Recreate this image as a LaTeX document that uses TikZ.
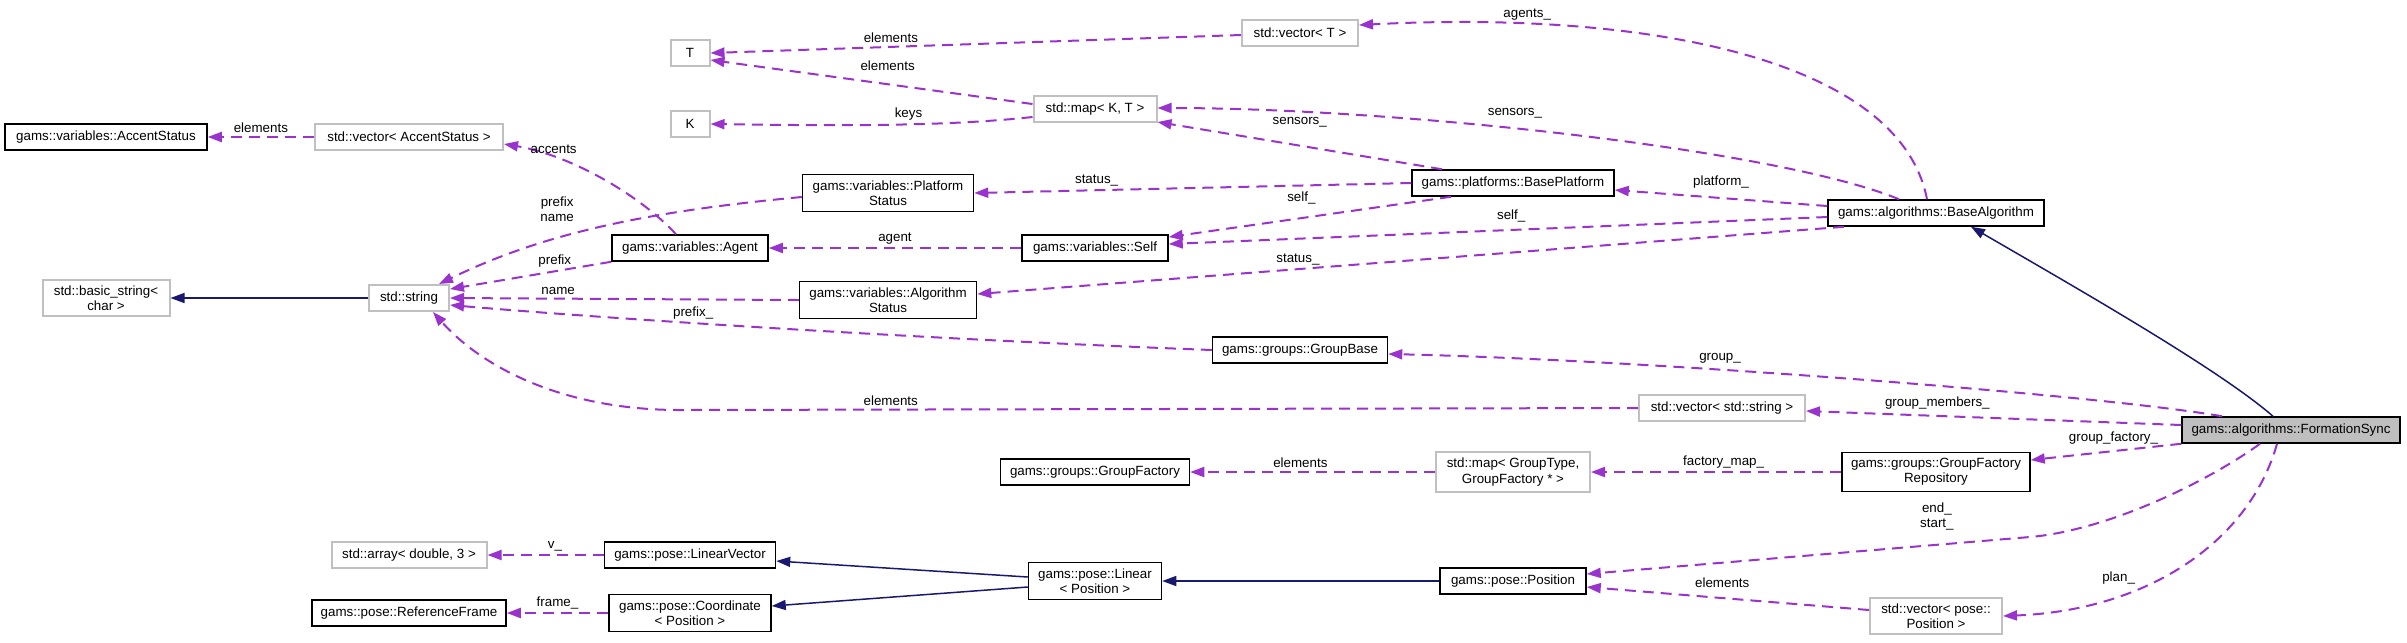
\documentclass[tikz,border=0pt]{standalone}
\usepackage{fontspec}
\setmainfont{Liberation Sans}
\usepackage{tikz}
\usetikzlibrary{arrows.meta}
\definecolor{memcol}{HTML}{9A32CD}
\definecolor{inhcol}{HTML}{191970}
\definecolor{extgray}{HTML}{C0C0C0}
\definecolor{curfill}{HTML}{BFBFBF}

\begin{document}
\begin{tikzpicture}[
  x=0.1mm,y=-0.1mm,
  font=\fontsize{3.8pt}{4.3pt}\selectfont,
  cls/.style={draw=black,line width=0.15mm,minimum height=2.6mm,inner xsep=0.5mm,inner ysep=0.6mm,align=center},
  ext/.style={cls,draw=extgray,line width=0.2mm},
  cur/.style={cls,fill=curfill},
  mem/.style={-{Triangle[length=1.4mm,width=1mm]},draw=memcol,line width=0.2mm,dash pattern=on 1.1mm off 0.7mm},
  inh/.style={-{Triangle[length=1.4mm,width=1mm]},draw=inhcol,line width=0.15mm},
  lbl/.style={inner sep=0.3mm,align=center}
]
\useasboundingbox (0,0) rectangle (2407,642);

% classes
\node[cls,minimum width=20.2mm] (as) at (106,137) {gams::variables::AccentStatus};
\node[ext,minimum width=18.8mm] (vas) at (409,137) {std::vector< AccentStatus >};
\node[ext,minimum width=3.9mm] (T) at (690,53) {T};
\node[ext,minimum width=3.9mm] (K) at (690,124) {K};
\node[ext,minimum width=11.6mm] (vt) at (1300,33) {std::vector< T >};
\node[ext,minimum width=12.3mm] (mkt) at (1095,109) {std::map< K, T >};
\node[cls,minimum width=17.1mm] (ps) at (888,193) {gams::variables::Platform\\Status};
\node[cls,minimum width=15.6mm] (agent) at (690,248) {gams::variables::Agent};
\node[cls,minimum width=14.6mm] (self) at (1095,248) {gams::variables::Self};
\node[cls,minimum width=20.2mm] (bp) at (1513,183) {gams::platforms::BasePlatform};
\node[cls,minimum width=21.6mm] (ba) at (1936,213) {gams::algorithms::BaseAlgorithm};
\node[ext,minimum width=12.7mm] (bs) at (106,298) {std::basic\_string<\\char >};
\node[ext,minimum width=8mm] (str) at (409,298) {std::string};
\node[cls,minimum width=17.7mm] (als) at (888,300) {gams::variables::Algorithm\\Status};
\node[cls,minimum width=17.5mm] (gb) at (1300,350) {gams::groups::GroupBase};
\node[ext,minimum width=16.6mm] (vstr) at (1722,408) {std::vector< std::string >};
\node[cur,minimum width=21.8mm] (fs) at (2291,430) {gams::algorithms::FormationSync};
\node[cls,minimum width=18.9mm] (gf) at (1095,472) {gams::groups::GroupFactory};
\node[ext,minimum width=15.4mm] (mgf) at (1513,472) {std::map< GroupType,\\GroupFactory * >};
\node[cls,minimum width=18.8mm] (gfr) at (1936,472) {gams::groups::GroupFactory\\Repository};
\node[ext,minimum width=15.5mm] (arr) at (409,555) {std::array< double, 3 >};
\node[cls,minimum width=17.1mm] (lv) at (690,555) {gams::pose::LinearVector};
\node[cls,minimum width=13.3mm] (lin) at (1095,581) {gams::pose::Linear\\< Position >};
\node[cls,minimum width=14.6mm] (posn) at (1513,581) {gams::pose::Position};
\node[cls,minimum width=19.4mm] (rf) at (409,613) {gams::pose::ReferenceFrame};
\node[cls,minimum width=16.2mm] (coord) at (690,613) {gams::pose::Coordinate\\< Position >};
\node[ext,minimum width=13.2mm] (vpp) at (1936,616) {std::vector< pose::\\Position >};

% members
\draw[mem] (vas) -- node[lbl,above]{elements} (as);
\draw[mem] ([xshift=-1.4mm]agent.north) .. controls (640,195) and (570,155) .. node[lbl,pos=0.75,above]{accents} ([yshift=-0.7mm]vas.east);
\draw[mem] ([yshift=-0.4mm]ps.west) .. controls (640,212) and (540,235) .. node[lbl,pos=0.62,above=1.3mm]{prefix\\name} ([xshift=3mm]str.north);
\draw[mem] (agent.south west) -- node[lbl,pos=0.35,above]{prefix} ([yshift=0.9mm]str.east);
\draw[mem] (als.west) -- node[lbl,pos=0.69,above]{name} (str.east);
\draw[mem] (gb.west) .. controls (900,338) and (600,318) .. node[lbl,pos=0.6,above]{prefix\_} ([yshift=-0.7mm]str.east);
\draw[mem] (vstr.west) -- node[lbl,pos=0.78,above]{elements} (680,410) .. controls (560,410) and (480,365) .. ([xshift=2.4mm]str.south);
\draw[mem] ([yshift=-0.2mm]vt.west) -- node[lbl,pos=0.66,above]{elements} (T.east);
\draw[mem] ([yshift=0.5mm]mkt.west) -- node[lbl,pos=0.45,above=1mm]{elements} ([yshift=-0.7mm]T.east);
\draw[mem] ([yshift=-0.8mm]mkt.west) .. controls (950,126) and (850,126) .. node[lbl,pos=0.45,above]{keys} (K.east);
\draw[mem] ([xshift=-0.9mm]ba.north) .. controls (1900,60) and (1650,10) .. node[lbl,pos=0.8,above]{agents\_} ([yshift=0.8mm]vt.east);
\draw[mem] ([xshift=-3.7mm]ba.north) .. controls (1780,150) and (1400,108) .. node[lbl,pos=0.57,above=0.6mm]{sensors\_} ([yshift=0.1mm]mkt.east);
\draw[mem] ([xshift=-7.1mm]bp.north) -- node[lbl,pos=0.5,above=1.4mm]{sensors\_} ([yshift=-1.3mm]mkt.east);
\draw[mem] (bp.west) -- node[lbl,pos=0.72,above]{status\_} (ps.east);
\draw[mem] ([xshift=-6.2mm]bp.south) -- node[lbl,pos=0.53,above=1mm]{self\_} ([yshift=1.1mm]self.east);
\draw[mem] ([yshift=-0.4mm]ba.west) -- node[lbl,pos=0.48,above=0.4mm]{self\_} ([yshift=0.4mm]self.east);
\draw[mem] ([xshift=-9.2mm]ba.south) -- node[lbl,pos=0.63,above]{status\_} ([yshift=0.6mm]als.east);
\draw[mem] ([yshift=0.7mm]ba.west) -- node[lbl,above=0.6mm]{platform\_} ([yshift=-0.7mm]bp.east);
\draw[mem] (self) -- node[lbl,above]{agent} (agent);
\draw[mem] ([xshift=-6.9mm]fs.north) .. controls (2100,395) and (1650,360) .. node[lbl,pos=0.64,above=0.3mm]{group\_} ([yshift=-0.4mm]gb.east);
\draw[mem] ([yshift=0.5mm]fs.west) -- node[lbl,pos=0.65,above=0.3mm]{group\_members\_} ([yshift=-0.3mm]vstr.east);
\draw[mem] (fs.south west) -- node[lbl,pos=0.45,above=0.3mm]{group\_factory\_} ([yshift=1.2mm]gfr.east);
\draw[mem] (gfr) -- node[lbl,pos=0.47,above]{factory\_map\_} (mgf);
\draw[mem] (mgf) -- node[lbl,pos=0.55,above]{elements} (gf);
\draw[mem] ([xshift=-3.1mm]fs.south) .. controls (2210,480) and (2110,530) .. (2030,537) -- node[lbl,pos=0.21,above=1.1mm]{end\_\\start\_} ([yshift=0.7mm]posn.east);
\draw[mem] ([xshift=-1.4mm]fs.south) .. controls (2250,540) and (2150,610) .. node[lbl,pos=0.65,above left]{plan\_} (vpp.east);
\draw[mem] ([yshift=0.6mm]vpp.west) -- node[lbl,pos=0.52,above=0.6mm]{elements} ([yshift=-0.6mm]posn.east);
\draw[mem] (lv) -- node[lbl,pos=0.42,above]{v\_} (arr);
\draw[mem] (coord) -- node[lbl,above]{frame\_} (rf);

% inheritance
\draw[inh] ([xshift=-1.8mm]fs.north) .. controls (2220,370) and (2080,290) .. ([xshift=3.5mm]ba.south);
\draw[inh] (str) -- (bs);
\draw[inh] ([yshift=0.4mm]lin.west) -- ([yshift=-0.6mm]lv.east);
\draw[inh] ([yshift=-0.6mm]lin.west) -- ([yshift=0.7mm]coord.east);
\draw[inh] (posn) -- (lin);
\end{tikzpicture}
\end{document}
